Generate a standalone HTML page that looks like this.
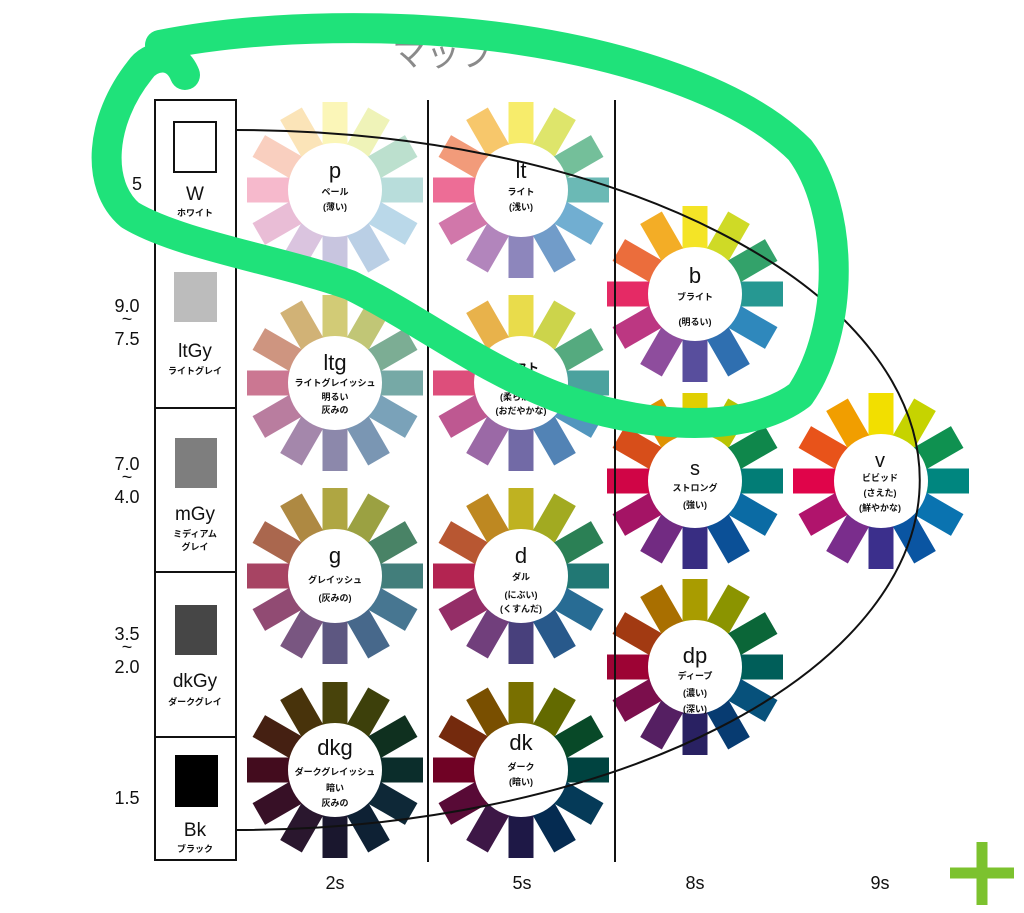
<!DOCTYPE html>
<html><head><meta charset="utf-8"><style>
body{margin:0;background:#fff;}
svg{display:block;font-family:"Liberation Sans","Noto Sans CJK JP",sans-serif;}
</style></head><body>
<svg id="s" width="1024" height="913" viewBox="0 0 1024 913" xmlns="http://www.w3.org/2000/svg">
<rect width="1024" height="913" fill="#fff"/>
<text x="392" y="66" font-size="34" fill="#8a8a8a">マップ</text>
<g id="wheels"></g>
<path d="M236,130 A684,350 0 0 1 236,830" fill="none" stroke="#111" stroke-width="2"/>
<g fill="none" stroke="#111" stroke-width="2">
<rect x="155" y="100" width="81" height="760"/>
<line x1="155" y1="243" x2="236" y2="243"/><line x1="155" y1="408" x2="236" y2="408"/>
<line x1="155" y1="572" x2="236" y2="572"/><line x1="155" y1="737" x2="236" y2="737"/>
<line x1="428" y1="100" x2="428" y2="862"/><line x1="615" y1="100" x2="615" y2="862"/>
<rect x="174" y="122" width="42" height="50" fill="#fff"/>
</g>
<rect x="174" y="272" width="43" height="50" fill="#bcbcbc"/>
<rect x="175" y="438" width="42" height="50" fill="#7e7e7e"/>
<rect x="175" y="605" width="42" height="50" fill="#464646"/>
<rect x="175" y="755" width="43" height="52" fill="#000"/>
<g text-anchor="middle" fill="#111">
<text x="195" y="200" font-size="19">W</text><text x="195" y="216" font-size="9" font-weight="bold">ホワイト</text>
<text x="195" y="357" font-size="19">ltGy</text><text x="195" y="374" font-size="9" font-weight="bold">ライトグレイ</text>
<text x="195" y="520" font-size="19">mGy</text><text x="195" y="537" font-size="9" font-weight="bold">ミディアム</text><text x="195" y="550" font-size="9" font-weight="bold">グレイ</text>
<text x="195" y="687" font-size="19">dkGy</text><text x="195" y="705" font-size="9" font-weight="bold">ダークグレイ</text>
<text x="195" y="836" font-size="19">Bk</text><text x="195" y="852" font-size="9" font-weight="bold">ブラック</text>
<g font-size="18">
<text x="137" y="190">5</text>
<text x="127" y="312">9.0</text><text x="127" y="325">~</text><text x="127" y="345">7.5</text>
<text x="127" y="470">7.0</text><text x="127" y="483">~</text><text x="127" y="503">4.0</text>
<text x="127" y="640">3.5</text><text x="127" y="653">~</text><text x="127" y="673">2.0</text>
<text x="127" y="804">1.5</text>
<text x="335" y="889">2s</text><text x="522" y="889">5s</text><text x="695" y="889">8s</text><text x="880" y="889">9s</text>
</g>
<g>
<text x="335" y="178" font-size="22">p</text><text x="335" y="195" font-size="9" font-weight="bold">ペール</text><text x="335" y="210" font-size="9" font-weight="bold">(薄い)</text>
<text x="521" y="178" font-size="22">lt</text><text x="521" y="195" font-size="9" font-weight="bold">ライト</text><text x="521" y="210" font-size="9" font-weight="bold">(浅い)</text>
<text x="695" y="283" font-size="22">b</text><text x="695" y="300" font-size="9" font-weight="bold">ブライト</text><text x="695" y="325" font-size="9" font-weight="bold">(明るい)</text>
<text x="335" y="370" font-size="22">ltg</text><text x="335" y="386" font-size="9" font-weight="bold">ライトグレイッシュ</text><text x="335" y="400" font-size="9" font-weight="bold">明るい</text><text x="335" y="413" font-size="9" font-weight="bold">灰みの</text>
<text x="521" y="372" font-size="12" font-weight="bold">ソフト</text><text x="521" y="400" font-size="9" font-weight="bold">(柔らかな)</text><text x="521" y="414" font-size="9" font-weight="bold">(おだやかな)</text>
<text x="695" y="475" font-size="20">s</text><text x="695" y="491" font-size="9" font-weight="bold">ストロング</text><text x="695" y="508" font-size="9" font-weight="bold">(強い)</text>
<text x="880" y="467" font-size="20">v</text><text x="880" y="481" font-size="9" font-weight="bold">ビビッド</text><text x="880" y="496" font-size="9" font-weight="bold">(さえた)</text><text x="880" y="511" font-size="9" font-weight="bold">(鮮やかな)</text>
<text x="335" y="563" font-size="22">g</text><text x="335" y="583" font-size="9" font-weight="bold">グレイッシュ</text><text x="335" y="601" font-size="9" font-weight="bold">(灰みの)</text>
<text x="521" y="563" font-size="22">d</text><text x="521" y="580" font-size="9" font-weight="bold">ダル</text><text x="521" y="598" font-size="9" font-weight="bold">(にぶい)</text><text x="521" y="612" font-size="9" font-weight="bold">(くすんだ)</text>
<text x="695" y="663" font-size="22">dp</text><text x="695" y="679" font-size="9" font-weight="bold">ディープ</text><text x="695" y="696" font-size="9" font-weight="bold">(濃い)</text><text x="695" y="712" font-size="9" font-weight="bold">(深い)</text>
<text x="335" y="755" font-size="22">dkg</text><text x="335" y="775" font-size="9" font-weight="bold">ダークグレイッシュ</text><text x="335" y="791" font-size="9" font-weight="bold">暗い</text><text x="335" y="806" font-size="9" font-weight="bold">灰みの</text>
<text x="521" y="750" font-size="22">dk</text><text x="521" y="770" font-size="9" font-weight="bold">ダーク</text><text x="521" y="785" font-size="9" font-weight="bold">(暗い)</text>
</g>
</g>
<path d="M160,45 C260,25 400,22 520,40 C620,55 740,90 800,150 C845,210 845,330 800,395 C740,440 620,425 540,390 C470,360 420,320 350,285 C280,260 180,245 130,215 C95,185 100,120 140,70 C150,55 175,50 185,75" fill="none" stroke="#1fe27a" stroke-width="30" stroke-linecap="round" stroke-linejoin="round"/>
<g stroke="#7cc22e" stroke-width="11"><line x1="950" y1="873" x2="1014" y2="873"/><line x1="982" y1="842" x2="982" y2="905"/></g>
</svg>
<script>
var hues=["#f2df00","#c6d300","#0f9150","#00867f","#0a73b0","#0a55a2","#3b2f8c","#7a2d8c","#b0146c","#e0044a","#e8531a","#f19e00"];
function hx(h){return [parseInt(h.substr(1,2),16),parseInt(h.substr(3,2),16),parseInt(h.substr(5,2),16)];}
function mix(c,t,a){return "rgb("+c.map(function(v,i){return Math.round(v*(1-a)+t[i]*a)}).join(",")+")";}
var W=[];
function add(x,y,tgt,a){W.push([x,y,tgt,a]);}
add(335,190,[255,255,255],0.72);
add(521,190,[255,255,255],0.42);
add(695,294,[255,255,255],0.15);
add(335,383,[190,190,190],0.62);
add(521,383,[215,215,215],0.35);
add(695,481,[20,20,20],0.08);
add(881,481,[0,0,0],0);
add(335,576,[120,120,120],0.55);
add(521,576,[95,95,95],0.35);
add(695,667,[0,0,0],0.3);
add(335,770,[15,15,15],0.75);
add(521,770,[0,0,0],0.5);
var g=document.getElementById("wheels"),out="";
W.forEach(function(w){
 for(var i=0;i<12;i++){
  var c=mix(hx(hues[i]),w[2],w[3]);
  out+='<rect x="'+(w[0]-12.5)+'" y="'+(w[1]-88)+'" width="25" height="44" fill="'+c+'" transform="rotate('+(i*30)+' '+w[0]+' '+w[1]+')"/>';
 }
 out+='<circle cx="'+w[0]+'" cy="'+w[1]+'" r="47" fill="#fff"/>';
});
g.innerHTML=out;
</script>
</body></html>
